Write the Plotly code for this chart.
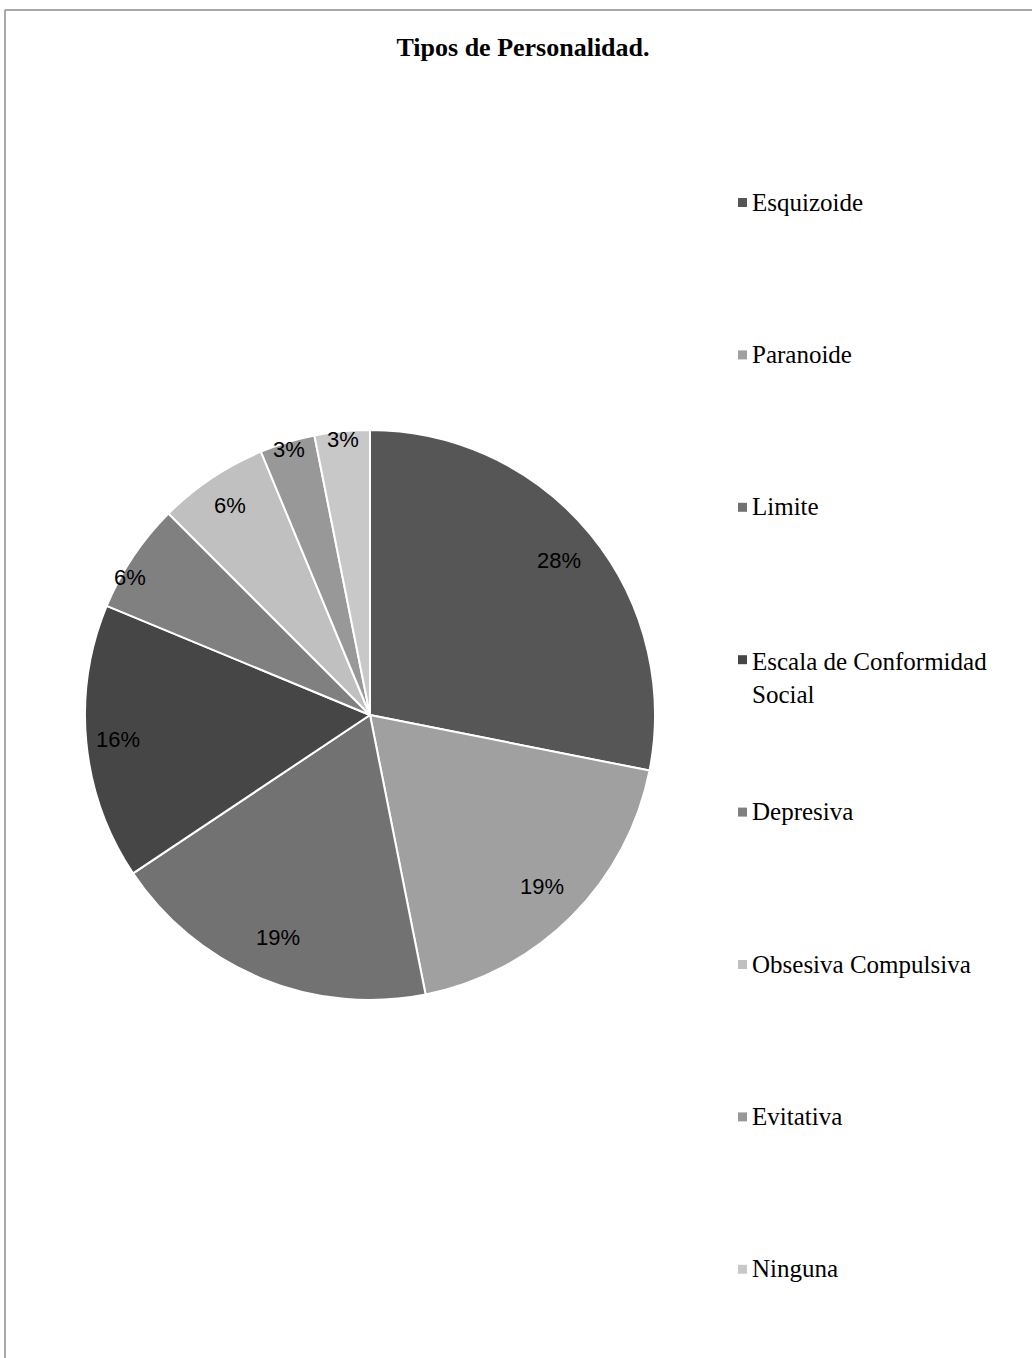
import math
import plotly.graph_objects as go

W, H = 1032, 1358

# ---- data ----
labels = ["Esquizoide", "Paranoide", "Limite", "Escala de Conformidad Social",
          "Depresiva", "Obsesiva Compulsiva", "Evitativa", "Ninguna"]
values = [9, 6, 6, 5, 2, 2, 1, 1]
colors = ["#565656", "#a0a0a0", "#727272", "#464646",
          "#808080", "#c0c0c0", "#989898", "#c8c8c8"]
legend_text = ["Esquizoide", "Paranoide", "Limite", "Escala de Conformidad<br>Social",
               "Depresiva", "Obsesiva Compulsiva", "Evitativa", "Ninguna"]

# ---- layout config ----
cx, cy, R = 370, 715, 285          # pie centre / radius in px
label_frac = [0.856, 0.853, 0.846, 0.888, 0.97, 0.885, 0.975, 0.97]
label_dang = [0, 0, 0, 0, -4, 0, 0, 0]   # small angular nudges (deg)
legend_x = 750
legend_y0, legend_dy = 202, 152.4

fig = go.Figure(go.Pie(
    labels=labels, values=values, sort=False, direction="clockwise", rotation=0,
    marker=dict(colors=colors, line=dict(color="white", width=2)),
    textinfo="none", hoverinfo="label+percent", showlegend=False,
    domain=dict(x=[(cx - R) / W, (cx + R) / W], y=[1 - (cy + R) / H, 1 - (cy - R) / H]),
))

annotations = []
shapes = []
total = sum(values)
cum = 0
for v, f, da in zip(values, label_frac, label_dang):
    mid = (cum + v / 2) / total * 2 * math.pi + math.radians(da)
    cum += v
    px = cx + f * R * math.sin(mid)
    py = cy - f * R * math.cos(mid)
    annotations.append(dict(
        x=px / W, y=1 - py / H, xref="paper", yref="paper",
        text=f"{round(v / total * 100)}%", showarrow=False,
        font=dict(family="Liberation Sans, Arial", size=22, color="#000000"),
        xanchor="center", yanchor="middle"))

for i, (t, c) in enumerate(zip(legend_text, colors)):
    y = legend_y0 + i * legend_dy
    annotations.append(dict(
        x=legend_x / W, y=1 - y / H, xref="paper", yref="paper",
        text=t, showarrow=False, align="left",
        font=dict(family="Liberation Serif, Times New Roman", size=25, color="#000000"),
        xanchor="left", yanchor="top" if "<br>" in t else "middle",
        yshift=13 if "<br>" in t else 0))
    shapes.append(dict(type="rect", xref="paper", yref="paper",
                       x0=(legend_x - 12) / W, x1=(legend_x - 3) / W,
                       y0=1 - (y + 5) / H, y1=1 - (y - 4) / H,
                       fillcolor=c, line=dict(width=0)))

# outer frame (partially clipped like the reference)
shapes.append(dict(type="line", xref="paper", yref="paper",
                   x0=5 / W, x1=1.02, y0=1 - 10 / H, y1=1 - 10 / H,
                   line=dict(color="#8c8c8c", width=1.5)))
shapes.append(dict(type="line", xref="paper", yref="paper",
                   x0=5 / W, x1=5 / W, y0=1 - 10 / H, y1=-0.02,
                   line=dict(color="#8c8c8c", width=1.5)))

fig.update_layout(
    width=W, height=H, margin=dict(l=0, r=0, t=0, b=0),
    paper_bgcolor="white", plot_bgcolor="white",
    title=dict(text="<b>Tipos de Personalidad.</b>", x=523 / W, xanchor="center",
               y=1 - 47 / H, yanchor="middle",
               font=dict(family="Liberation Serif, Times New Roman", size=26, color="#000")),
    annotations=annotations, shapes=shapes,
)

fig.write_html("out.html")
